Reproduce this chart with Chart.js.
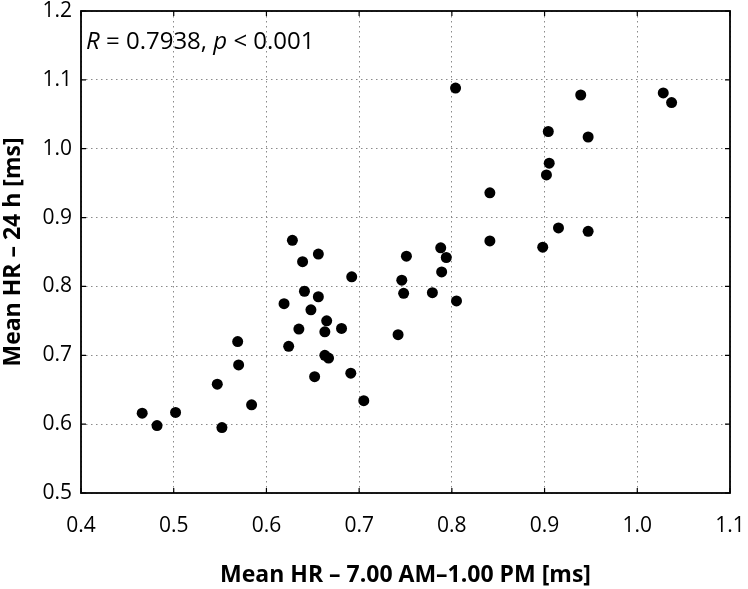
<!DOCTYPE html>
<html>
<head>
<meta charset="utf-8">
<script src="https://cdn.jsdelivr.net/npm/chart.js@4"></script>
<style>
  html, body { margin: 0; padding: 0; background: #fff; }
  #wrap { width: 748px; height: 589px; }
</style>
</head>
<body>
<div id="wrap"><canvas id="hrChart" width="748" height="589"></canvas></div>
<script>
// mean HR 7.00 AM-1.00 PM (x) vs mean HR 24 h (y)
const hrMorning = [
  0.466, 0.482, 0.502, 0.547, 0.552, 0.569, 0.570, 0.584, 0.619, 0.624,
  0.635, 0.641, 0.648, 0.656, 0.652, 0.665, 0.663, 0.663, 0.667, 0.681,
  0.691, 0.705, 0.628, 0.639, 0.656, 0.692, 0.804, 0.939, 1.028, 1.037,
  0.904, 0.947, 0.905, 0.902, 0.841, 0.915, 0.947, 0.841, 0.898, 0.788,
  0.751, 0.794, 0.789, 0.746, 0.748, 0.779, 0.805, 0.742
];
const hr24h = [
  0.616, 0.598, 0.617, 0.658, 0.595, 0.720, 0.686, 0.628, 0.775, 0.713,
  0.738, 0.793, 0.766, 0.785, 0.669, 0.750, 0.734, 0.700, 0.696, 0.739,
  0.674, 0.634, 0.867, 0.836, 0.847, 0.814, 1.088, 1.078, 1.081, 1.067,
  1.025, 1.017, 0.979, 0.962, 0.936, 0.885, 0.880, 0.866, 0.857, 0.856,
  0.844, 0.842, 0.821, 0.809, 0.790, 0.791, 0.779, 0.730
];
const xTicks = [0.4, 0.5, 0.6, 0.7, 0.8, 0.9, 1.0, 1.1];
const yTicks = [0.5, 0.6, 0.7, 0.8, 0.9, 1.0, 1.1, 1.2];

const points = hrMorning.map((x, i) => ({ x: x, y: hr24h[i] }));
const fontName = "'Open Sans', 'DejaVu Sans', sans-serif";

// frame, inward tick marks and the R / p note
const framePlugin = {
  id: "frame",
  afterDraw(chart) {
    const ctx = chart.ctx;
    const a = chart.chartArea;
    const xs = chart.scales.x;
    const ys = chart.scales.y;
    ctx.save();
    ctx.strokeStyle = "#000";
    ctx.lineWidth = 1.2;
    for (const v of xTicks) {
      const px = xs.getPixelForValue(v);
      ctx.beginPath();
      ctx.moveTo(px, a.bottom); ctx.lineTo(px, a.bottom - 5);
      ctx.moveTo(px, a.top); ctx.lineTo(px, a.top + 5);
      ctx.stroke();
    }
    for (const v of yTicks) {
      const py = ys.getPixelForValue(v);
      ctx.beginPath();
      ctx.moveTo(a.left, py); ctx.lineTo(a.left + 5, py);
      ctx.moveTo(a.right, py); ctx.lineTo(a.right - 5, py);
      ctx.stroke();
    }
    ctx.lineWidth = 1.8;
    ctx.strokeRect(a.left, a.top, a.right - a.left, a.bottom - a.top);

    ctx.fillStyle = "#000";
    ctx.textBaseline = "alphabetic";
    ctx.textAlign = "left";
    let tx = a.left + 5;
    const ty = a.top + 38;
    const parts = [
      ["italic", "R"], ["normal", " = 0.7938, "], ["italic", "p"], ["normal", " < 0.001"]
    ];
    for (const [style, txt] of parts) {
      ctx.font = style + " 24px " + fontName;
      ctx.fillText(txt, tx, ty);
      tx += ctx.measureText(txt).width;
    }
    ctx.restore();
  }
};

const gridOpts = { color: "#8a8a8a", lineWidth: 1, drawTicks: false };
const borderOpts = { display: false, dash: [1.5, 3.5] };

new Chart(document.getElementById("hrChart"), {
  type: "scatter",
  data: {
    datasets: [
      {
        data: points,
        backgroundColor: "#000",
        borderWidth: 0,
        pointRadius: 5.5,
        pointHoverRadius: 5.5,
      },
    ],
  },
  options: {
    responsive: false,
    animation: false,
    layout: { padding: { top: 11, right: 18, left: 0, bottom: 0 } },
    plugins: {
      legend: { display: false },
      tooltip: { enabled: false },
    },
    scales: {
      x: {
        min: 0.4,
        max: 1.1,
        afterFit: (s) => {
          s.height = 96;
          s.paddingLeft = 0;
          s.paddingRight = 0;
        },
        afterBuildTicks: (s) => { s.ticks = xTicks.map((v) => ({ value: v })); },
        grid: gridOpts,
        border: borderOpts,
        ticks: {
          padding: 20,
          color: "#000",
          font: { family: fontName, size: 21 },
          callback: (v) => Number(v).toFixed(1),
        },
        title: {
          display: true,
          text: "Mean HR – 7.00 AM–1.00 PM [ms]",
          color: "#000",
          font: { family: fontName, size: 23, weight: "bold" },
          padding: { top: 0, bottom: 0 },
        },
      },
      y: {
        min: 0.5,
        max: 1.2,
        afterFit: (s) => {
          s.width = 81;
          s.paddingTop = 0;
          s.paddingBottom = 0;
        },
        afterBuildTicks: (s) => { s.ticks = yTicks.map((v) => ({ value: v })); },
        grid: gridOpts,
        border: borderOpts,
        ticks: {
          padding: 9,
          color: "#000",
          font: { family: fontName, size: 21 },
          callback: (v) => Number(v).toFixed(1),
        },
        title: {
          display: true,
          text: "Mean HR – 24 h [ms]",
          color: "#000",
          font: { family: fontName, size: 23, weight: "bold" },
          padding: { top: 0, bottom: 0 },
        },
      },
    },
  },
  plugins: [framePlugin],
});
</script>
</body>
</html>
